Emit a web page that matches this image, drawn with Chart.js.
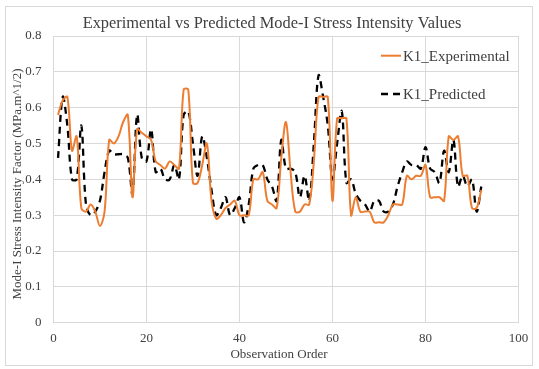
<!DOCTYPE html>
<html>
<head>
<meta charset="utf-8">
<script src="https://cdn.jsdelivr.net/npm/chart.js@4.4.0/dist/chart.umd.min.js"></script>
<style>
  html, body { margin: 0; padding: 0; background: #fff; }
  #wrap { width: 539px; height: 369px; }
</style>
</head>
<body>
<div id="wrap"><canvas id="grafico" width="539" height="369"></canvas></div>
<script>
// datos
const tituloGrafico = "Experimental vs Predicted Mode-I Stress Intensity Values";
const tituloEjeX = "Observation Order";
const tituloEjeY = "Mode-I Stress Intensity Factor (MPa.m^1/2)";
const nombresSeries = ["K1_Experimental", "K1_Predicted"];

const k1Experimental = [
  0.58, 0.62, 0.63, 0.48, 0.52, 0.32, 0.31, 0.33, 0.31, 0.27,
  0.31, 0.51, 0.50, 0.52, 0.56, 0.58, 0.35, 0.54, 0.53, 0.52,
  0.51, 0.45, 0.44, 0.43, 0.45, 0.44, 0.43, 0.65, 0.65, 0.39,
  0.39, 0.44, 0.50, 0.34, 0.29, 0.30, 0.32, 0.33, 0.34, 0.30,
  0.30, 0.30, 0.40, 0.40, 0.42, 0.34, 0.33, 0.32, 0.46, 0.56,
  0.42, 0.31, 0.31, 0.33, 0.33, 0.45, 0.63, 0.63, 0.63, 0.34,
  0.57, 0.57, 0.57, 0.30, 0.35, 0.31, 0.31, 0.31, 0.28, 0.28,
  0.28, 0.30, 0.33, 0.33, 0.33, 0.41, 0.40, 0.41, 0.41, 0.44,
  0.35, 0.35, 0.35, 0.34, 0.52, 0.51, 0.52, 0.41, 0.41, 0.32,
  0.32, 0.37
];

const k1Predicted = [
  0.46, 0.63, 0.55, 0.40, 0.40, 0.55, 0.33, 0.30, 0.31, 0.34,
  0.42, 0.48, 0.47, 0.47, 0.47, 0.46, 0.36, 0.58, 0.46, 0.45,
  0.54, 0.42, 0.43, 0.40, 0.40, 0.44, 0.40, 0.58, 0.59, 0.50,
  0.41, 0.52, 0.46, 0.37, 0.30, 0.32, 0.35, 0.30, 0.32, 0.35,
  0.28, 0.33, 0.43, 0.44, 0.44, 0.40, 0.38, 0.34, 0.51, 0.43,
  0.43, 0.42, 0.35, 0.41, 0.34, 0.50, 0.69, 0.63, 0.55, 0.40,
  0.50, 0.59, 0.39, 0.40, 0.36, 0.34, 0.33, 0.31, 0.34, 0.34,
  0.31, 0.31, 0.33, 0.38, 0.42, 0.45, 0.44, 0.44, 0.43, 0.49,
  0.43, 0.42, 0.39, 0.48, 0.42, 0.51, 0.38, 0.41, 0.38, 0.40,
  0.31, 0.38
];

// orden de observacion 1..92
const ordenObservacion = k1Experimental.map((_, i) => i + 1);

const ejeXTicks = { min: 0, max: 100, paso: 20 };
const ejeYTicks = { min: 0, max: 0.8, paso: 0.1 };

const fuente = "'Liberation Serif', 'Times New Roman', serif";
const colorTexto = "#404040";
const colorGrilla = "#d9d9d9";
const colorNaranjo = "#ED7D31";

const aPuntos = (valores) => valores.map((v, i) => ({ x: ordenObservacion[i], y: v }));

// titulo, titulos de ejes, leyenda y marco
const decoracion = {
  id: "decoracion",
  afterDraw(chart) {
    const ctx = chart.ctx;
    ctx.save();
    // marco exterior
    ctx.strokeStyle = colorGrilla;
    ctx.lineWidth = 1;
    ctx.strokeRect(5.5, 6.5, 527, 359);

    ctx.fillStyle = colorTexto;
    ctx.textBaseline = "alphabetic";
    ctx.textAlign = "center";
    ctx.font = "16.4px " + fuente;
    ctx.fillText(tituloGrafico, 272, 28);

    ctx.font = "13px " + fuente;
    ctx.fillText(tituloEjeX, 279, 358);

    ctx.save();
    ctx.translate(21, 184);
    ctx.rotate(-Math.PI / 2);
    ctx.fillText(tituloEjeY, 0, 0);
    ctx.restore();

    // leyenda
    const ds = chart.data.datasets;
    const filas = [55.7, 94];
    ds.forEach((d, i) => {
      const y = filas[i];
      ctx.beginPath();
      ctx.strokeStyle = d.borderColor;
      ctx.lineWidth = d.borderWidth;
      ctx.setLineDash(d.borderDash || []);
      ctx.moveTo(381, y);
      ctx.lineTo(401, y);
      ctx.stroke();
      ctx.setLineDash([]);
      ctx.fillStyle = colorTexto;
      ctx.textAlign = "left";
      ctx.textBaseline = "middle";
      ctx.font = "15px " + fuente;
      ctx.fillText(d.label, 403, y + 1);
    });
    ctx.restore();
  }
};

const contexto = document.getElementById("grafico").getContext("2d");
new Chart(contexto, {
  type: "line",
  data: {
    datasets: [
      {
        label: nombresSeries[0],
        data: aPuntos(k1Experimental),
        borderColor: colorNaranjo,
        borderWidth: 2,
        pointRadius: 0,
        tension: 0.35,
        fill: false,
      },
      {
        label: nombresSeries[1],
        data: aPuntos(k1Predicted),
        borderColor: "#000000",
        borderWidth: 2.3,
        borderDash: [7, 5],
        pointRadius: 0,
        tension: 0.35,
        fill: false,
      },
    ],
  },
  options: {
    responsive: false,
    animation: false,
    devicePixelRatio: 1,
    layout: { padding: { top: 36, right: 20.5, bottom: 0, left: 0 } },
    plugins: {
      legend: { display: false },
      title: { display: false },
      tooltip: { enabled: false },
    },
    scales: {
      x: {
        type: "linear",
        min: ejeXTicks.min,
        max: ejeXTicks.max,
        ticks: {
          stepSize: ejeXTicks.paso,
          color: colorTexto,
          font: { family: fuente, size: 13 },
          padding: 8,
          maxRotation: 0,
        },
        grid: { color: colorGrilla, drawTicks: false },
        border: { color: colorGrilla },
        afterFit: (escala) => { escala.height = 46.3; },
      },
      y: {
        min: ejeYTicks.min,
        max: ejeYTicks.max,
        ticks: {
          stepSize: ejeYTicks.paso,
          color: colorTexto,
          font: { family: fuente, size: 13 },
          padding: 12,
        },
        grid: { color: colorGrilla, drawTicks: false },
        border: { color: colorGrilla },
        afterFit: (escala) => { escala.width = 53.4; },
      },
    },
  },
  plugins: [decoracion],
});
</script>
</body>
</html>
